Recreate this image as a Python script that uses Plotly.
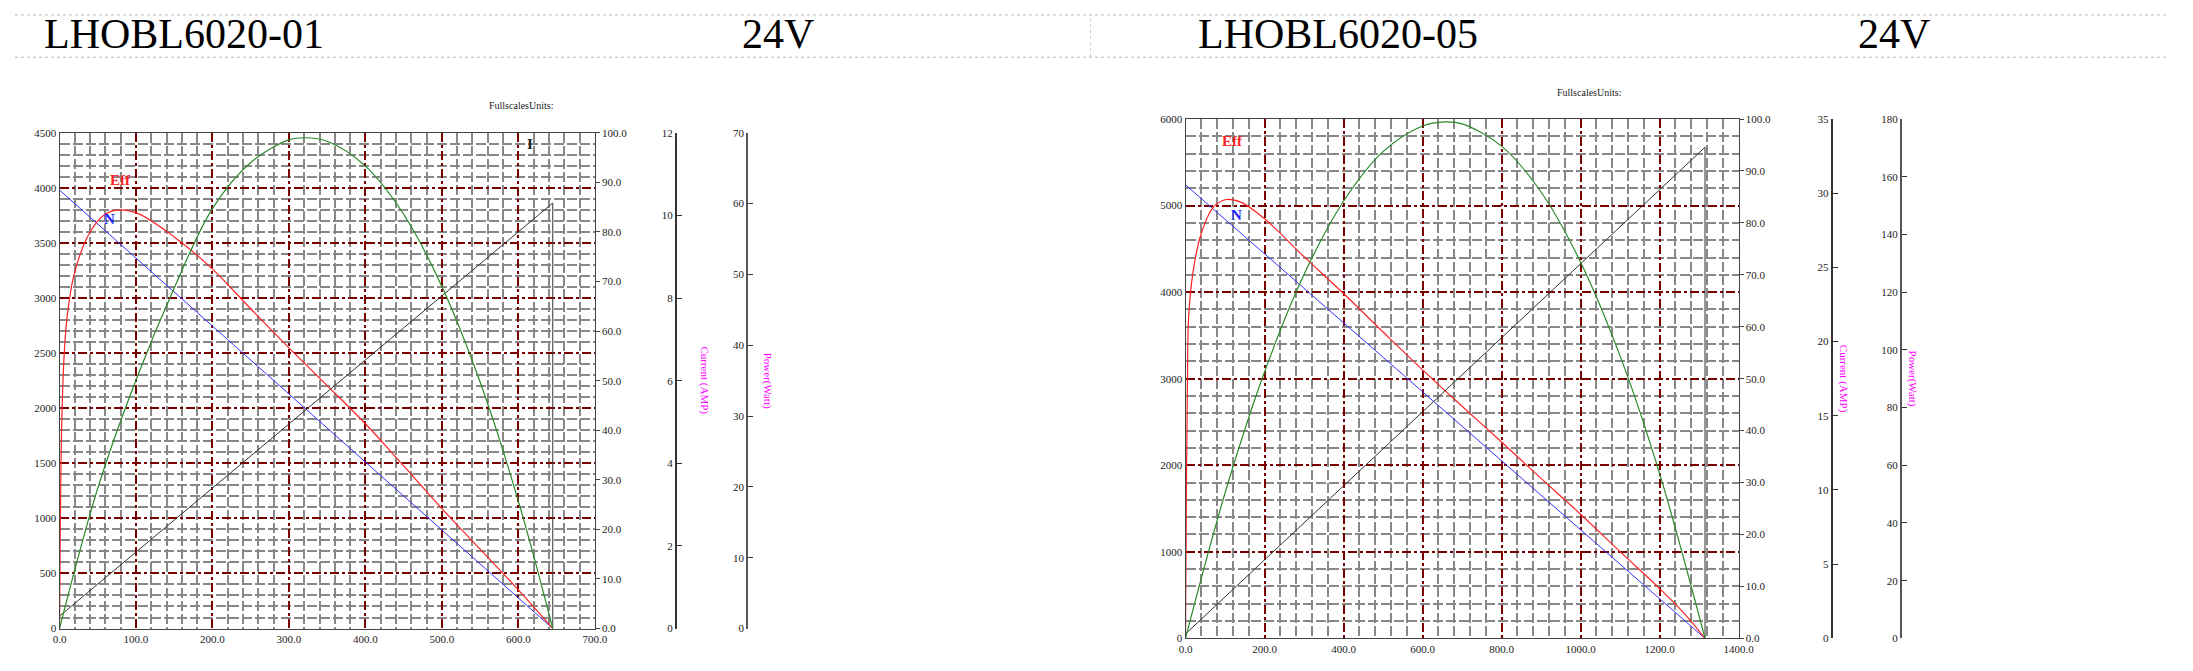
import plotly.graph_objects as go

W, H = 2193, 671
PW, PH = W - 16, H - 16  # figure size inside the page's 8px body margin

# ---- chart 1: LHOBL6020-01 ----
t1_speed = [0, 645]
n1_speed = [3980, 0]
t1_eff = [0, 1, 3, 6, 10, 20, 40, 60, 75, 100, 150, 200, 250, 300, 350, 400, 450, 500, 550, 600, 645]
e1_eff = [0, 20, 42, 55, 63, 72, 80, 83.6, 84.4, 83.9, 79.0, 72.5, 64.5, 56.6, 49.0, 41.3, 32.8, 24.2, 16.0, 7.8, 0]
t1_pow = [0, 50, 100, 150, 200, 250, 300, 322, 350, 400, 450, 500, 550, 600, 645]
p1_pow = [0, 19.8, 35.1, 48.1, 59.3, 65.8, 69.0, 69.3, 68.8, 65.3, 58.5, 48.3, 34.8, 18.0, 0]
t1_cur = [0, 645, 645]
i1_cur = [0.3, 10.3, 0]

# ---- chart 2: LHOBL6020-05 ----
t2_speed = [0, 1315]
n2_speed = [5240, 0]
t2_eff = [0, 2, 5, 8, 20, 40, 70, 103, 140, 200, 300, 400, 500, 600, 700, 800, 900, 1000, 1100, 1200, 1260, 1315]
e2_eff = [0, 25, 50, 62, 71, 78, 83, 84.5, 84.0, 80.8, 73.5, 66.4, 59.0, 51.7, 44.7, 37.8, 30.8, 23.9, 16.7, 9.6, 5.0, 0]
t2_pow = [0, 100, 200, 300, 400, 500, 600, 657, 700, 800, 900, 1000, 1100, 1200, 1315]
p2_pow = [0, 50.3, 92.3, 126.1, 151.5, 168.7, 177.6, 179.0, 178.3, 170.6, 154.7, 130.4, 97.9, 57.1, 0]
t2_cur = [0, 1315, 1315]
i2_cur = [0.3, 33.1, 0]


def px(x):
    return (x - 8) / PW


def py(y):
    return 1 - (y - 8) / PH


charts = [
    dict(name="LHOBL6020-01", x=(53, 594), y=(129, 634), xr=700, xmaj=100, xmin=20,
         yr=4500, ymaj=500, ymin=100, cur=12, cdt=2, pw=70, pdt=10,
         cx=676, px=748, unit=(485, 101), head=(35, 741),
         speed=(t1_speed, n1_speed), eff=(t1_eff, e1_eff), pow=(t1_pow, p1_pow), curv=(t1_cur, i1_cur),
         lab=dict(Eff=(80, 4070), N=(65, 3720), P=(330, 4540), I=(615, 4400))),
    dict(name="LHOBL6020-05", x=(1191, 1750), y=(115, 644), xr=1400, xmaj=200, xmin=40,
         yr=6000, ymaj=1000, ymin=200, cur=35, cdt=5, pw=180, pdt=20,
         cx=1844, px=1914, unit=(1633, 88), head=(1202, 1869),
         speed=(t2_speed, n2_speed), eff=(t2_eff, e2_eff), pow=(t2_pow, p2_pow), curv=(t2_cur, i2_cur),
         lab=dict(Eff=(120, 5750), N=(130, 4890), P=(675, 6060), I=(1260, 6060))),
]

fig = go.Figure()
tickfont = dict(family="Liberation Serif", size=11, color="#222")
major = dict(showgrid=True, gridcolor="#7a0000", griddash="dashdot", gridwidth=1.5)
layout = {}
annotations = []
shapes = []

for k, c in enumerate(charts):
    xa = "x" if k == 0 else "x2"
    ys = [f"y{4 * k + j}" if 4 * k + j > 1 else "y" for j in range(1, 5)]
    xd = [px(c["x"][0]), px(c["x"][1])]
    yd = [py(c["y"][1]), py(c["y"][0])]
    minor_x = dict(dtick=c["xmin"], showgrid=True, gridcolor="#888", griddash="10px,3px", gridwidth=2)
    minor_y = dict(dtick=c["ymin"], showgrid=True, gridcolor="#888", griddash="10px,3px", gridwidth=2)
    layout["xaxis" if k == 0 else "xaxis2"] = dict(
        domain=xd, range=[0, c["xr"]], anchor=ys[0], dtick=c["xmaj"], tickformat=".1f", minor=minor_x,
        showline=True, linecolor="#444", mirror=True, zeroline=False, tickfont=tickfont, ticks="", **major)
    layout["yaxis" if k == 0 else f"yaxis{4 * k + 1}"] = dict(
        domain=yd, range=[0, c["yr"]], anchor=xa, dtick=c["ymaj"], minor=minor_y,
        showline=True, linecolor="#444", zeroline=False, tickfont=tickfont, ticks="", **major)
    layout[f"yaxis{4 * k + 2}"] = dict(range=[0, 100], dtick=10, tickformat=".1f", overlaying=ys[0],
                                      anchor=xa, side="right", showgrid=False, zeroline=False,
                                      showline=True, linecolor="#444", ticks="outside", ticklen=4,
                                      tickfont=tickfont)
    layout[f"yaxis{4 * k + 3}"] = dict(range=[0, c["cur"]], dtick=c["cdt"], overlaying=ys[0], anchor="free",
                                      position=px(c["cx"]), side="left", showgrid=False, zeroline=False,
                                      showline=True, linecolor="#333", linewidth=2, ticks="inside", ticklen=5,
                                      tickcolor="#333", tickfont=tickfont)
    layout[f"yaxis{4 * k + 4}"] = dict(range=[0, c["pw"]], dtick=c["pdt"], overlaying=ys[0], anchor="free",
                                      position=px(c["px"]), side="left", showgrid=False, zeroline=False,
                                      showline=True, linecolor="#555", linewidth=2, ticks="inside", ticklen=5,
                                      tickcolor="#333", tickfont=tickfont)

    fig.add_trace(go.Scatter(x=c["speed"][0], y=c["speed"][1], xaxis=xa, yaxis=ys[0], mode="lines",
                             line=dict(color="#3333ff", width=1)))
    fig.add_trace(go.Scatter(x=c["eff"][0], y=c["eff"][1], xaxis=xa, yaxis=ys[1], mode="lines",
                             line=dict(color="#ff2222", width=1.2, shape="spline")))
    fig.add_trace(go.Scatter(x=c["curv"][0], y=c["curv"][1], xaxis=xa, yaxis=ys[2], mode="lines",
                             line=dict(color="#333", width=1)))
    fig.add_trace(go.Scatter(x=c["pow"][0], y=c["pow"][1], xaxis=xa, yaxis=ys[3], mode="lines",
                             line=dict(color="#2a8a2a", width=1.2, shape="spline")))

    colors = dict(Eff="#ff2222", N="#2222ff", P="#1a7a1a", I="#222")
    for lab, (lx, ly) in c["lab"].items():
        annotations.append(dict(x=lx, y=ly, xref=xa, yref=ys[0], text=f"<b>{lab}</b>", showarrow=False,
                                font=dict(family="Liberation Serif", size=15, color=colors[lab])))
    for pos, txt in [(c["cx"], "Current (AMP)"), (c["px"], "Power(Watt)")]:
        annotations.append(dict(x=px(pos + 20), y=(yd[0] + yd[1]) / 2, xref="paper", yref="paper",
                                text=txt, textangle=90, showarrow=False,
                                font=dict(family="Liberation Serif", size=11, color="#ff00ff")))
    annotations.append(dict(x=px(c["unit"][0]), y=py(c["unit"][1]), xref="paper", yref="paper",
                            text="FullscalesUnits:", showarrow=False, yanchor="middle",
                            font=dict(family="Liberation Serif", size=10, color="#222")))
    for hx, txt in [(c["head"][0], c["name"]), (c["head"][1], "24V")]:
        annotations.append(dict(x=px(hx), y=py(28), xref="paper", yref="paper", xanchor="left",
                                yanchor="middle", text=txt, showarrow=False,
                                font=dict(family="Liberation Serif", size=42, color="#000")))

for yy in [9, 52]:
    shapes.append(dict(type="line", xref="paper", yref="paper", x0=0, x1=1, y0=py(yy), y1=py(yy),
                       line=dict(color="#bbb", width=1, dash="dot")))
shapes.append(dict(type="line", xref="paper", yref="paper", x0=px(1095), x1=px(1095), y0=py(52), y1=py(9),
                   line=dict(color="#ccc", width=1, dash="dot")))

fig.update_layout(**layout)
fig.update_layout(annotations=annotations, shapes=shapes, showlegend=False, width=PW, height=PH,
                  margin=dict(l=0, r=0, t=0, b=0), plot_bgcolor="white", paper_bgcolor="white")
fig.write_html("out.html")
